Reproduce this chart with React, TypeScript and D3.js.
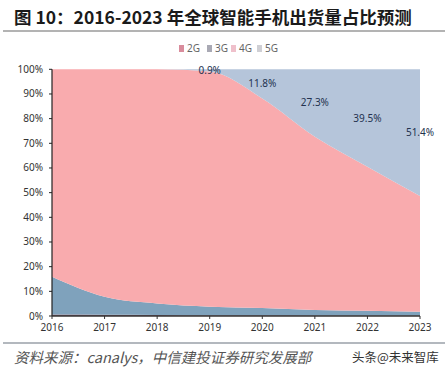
import React from "react";
import * as d3 from "d3";

const years = [2016, 2017, 2018, 2019, 2020, 2021, 2022, 2023];
const share2G = [0.6, 0.5, 0.4, 0.3, 0.3, 0.2, 0.2, 0.2];
const share3G = [15.3, 7.3, 4.7, 3.5, 2.9, 2.2, 1.9, 1.5];
const share5G = [0, 0, 0, 0.9, 11.8, 27.3, 39.5, 51.4];
const share4G = years.map((_, i) => 100 - share2G[i] - share3G[i] - share5G[i]);
const seriesNames = ["2G", "3G", "4G", "5G"];
const yTicks = [0, 10, 20, 30, 40, 50, 60, 70, 80, 90, 100];
const labelYears = [2019, 2020, 2021, 2022, 2023];

const areaColors: Record<string, string> = {
  "2G": "#7d5a6e",
  "3G": "#7fa2bc",
  "4G": "#f9abae",
  "5G": "#b5c5da",
};
const legendColors: Record<string, string> = {
  "2G": "#d98c9c",
  "3G": "#a9a9b4",
  "4G": "#efc0cb",
  "5G": "#cfcfd4",
};

export default function App() {
  const W = 445, H = 377;
  const x = d3.scaleLinear().domain([2016, 2023]).range([52, 420]);
  const y = d3.scaleLinear().domain([0, 100]).range([316, 69.3]);

  const table = years.map((yr, i) => ({
    year: yr,
    "2G": share2G[i],
    "3G": share3G[i],
    "4G": share4G[i],
    "5G": share5G[i],
  }));
  const stacked = d3.stack<any>().keys(seriesNames)(table);
  const area = d3
    .area<any>()
    .x((d) => x(d.data.year))
    .y0((d) => y(d[0]))
    .y1((d) => y(d[1]))
    .curve(d3.curveMonotoneX);

  const s5 = stacked[3];

  return (
    <svg width={W} height={H} style={{ position: "absolute", left: 0, top: 0, background: "#fff" }}>
      <text x={14} y={24} fontFamily="'Noto Sans CJK SC', sans-serif" fontWeight="bold" fontSize={17.5} fill="#1a1a1a">
        图 10：2016-2023 年全球智能手机出货量占比预测
      </text>
      <line x1={3} x2={445} y1={31} y2={31} stroke="#9a9a9a" strokeWidth={1.5} />

      {/* legend */}
      {seriesNames.map((n, i) => {
        const lx = [179, 207, 231, 257][i];
        return (
          <g key={n}>
            <rect x={lx} y={45} width={5} height={7} fill={legendColors[n]} />
            <text x={lx + 8} y={52} fontFamily="'Noto Sans', sans-serif" fontSize={10} fill="#666">
              {n}
            </text>
          </g>
        );
      })}

      {/* areas */}
      {stacked.map((s) => (
        <path key={s.key} d={area(s) || ""} fill={areaColors[s.key]} />
      ))}

      {/* 5G labels */}
      {labelYears.map((yr) => {
        const i = years.indexOf(yr);
        const d = s5[i];
        return (
          <text
            key={yr}
            x={x(yr)}
            y={(y(d[0]) + y(d[1])) / 2 + 3.5}
            textAnchor="middle"
            fontFamily="'Noto Sans', sans-serif"
            fontSize={10}
            fill="#23324f"
          >
            {share5G[i].toFixed(1)}%
          </text>
        );
      })}

      {/* y axis */}
      <line x1={52} x2={52} y1={y(100)} y2={y(0)} stroke="#222" strokeWidth={1.2} />
      {yTicks.map((t) => (
        <g key={t}>
          <line x1={49} x2={52} y1={y(t)} y2={y(t)} stroke="#222" />
          <text x={43} y={y(t) + 3.5} textAnchor="end" fontFamily="'Noto Sans', sans-serif" fontSize={10} fill="#333">
            {t}%
          </text>
        </g>
      ))}

      {/* x axis */}
      <line x1={52} x2={420} y1={y(0)} y2={y(0)} stroke="#333" strokeWidth={1.5} />
      {years.map((yr) => (
        <g key={yr}>
          <line x1={x(yr)} x2={x(yr)} y1={y(0)} y2={y(0) + 3} stroke="#333" />
          <text x={x(yr)} y={331} textAnchor="middle" fontFamily="'Noto Sans', sans-serif" fontSize={10} fill="#333">
            {yr}
          </text>
        </g>
      ))}

      <line x1={3} x2={445} y1={343} y2={343} stroke="#9aa0a8" strokeWidth={1.5} />
      <text x={14} y={363} fontFamily="'Noto Sans CJK SC', serif" fontStyle="italic" fontSize={14.5} fill="#555">
        资料来源：canalys，中信建投证券研究发展部
      </text>
      <text x={352} y={362} fontFamily="'Noto Sans CJK SC', sans-serif" fontSize={12.5} fill="#333">
        头条@未来智库
      </text>
    </svg>
  );
}
